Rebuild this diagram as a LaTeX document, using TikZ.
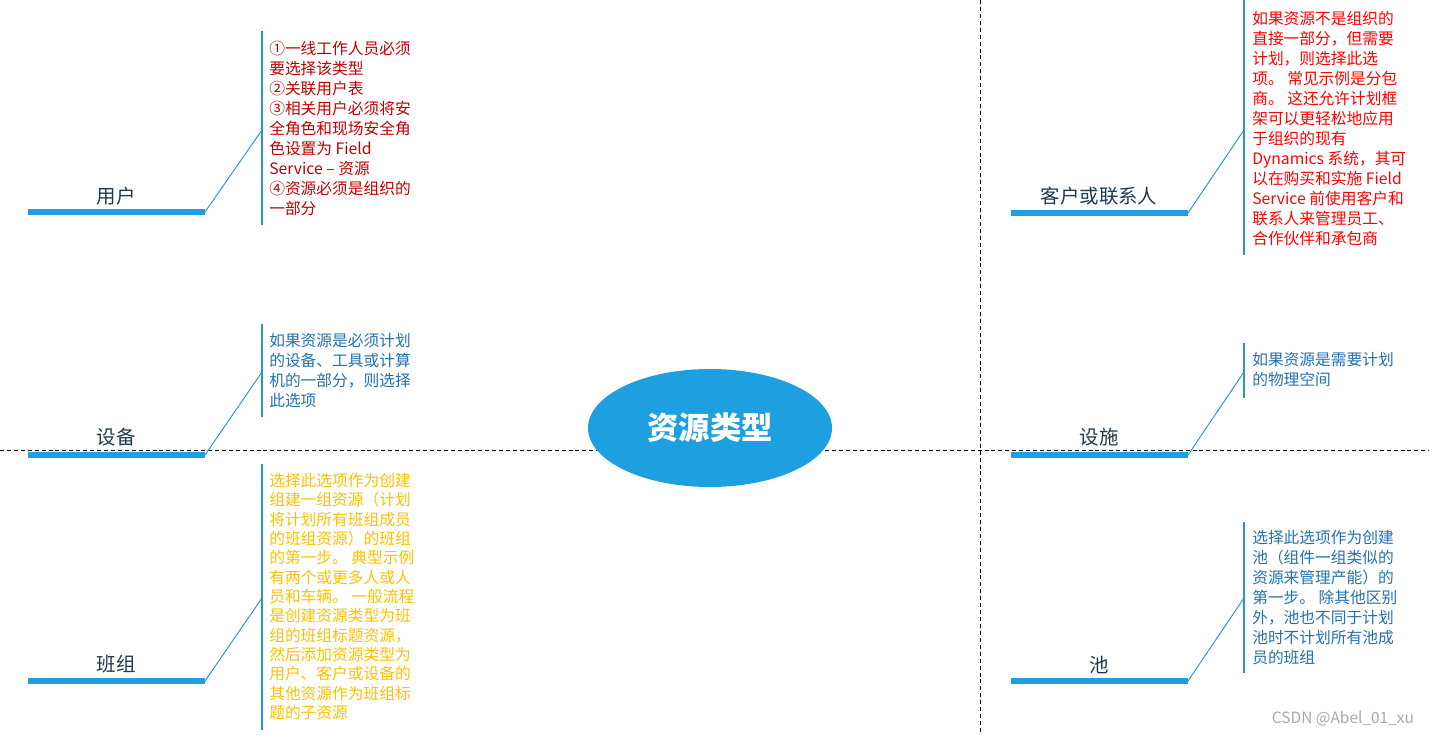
\documentclass[tikz,border=0pt]{standalone}
\usepackage{fontspec}
\setmainfont{Noto Sans CJK SC}
\usetikzlibrary{shapes.geometric}
\definecolor{MapBlue}{HTML}{1E9FDF}
\definecolor{LineBlue}{HTML}{2A93D2}
\definecolor{LabelNavy}{HTML}{1D3A4E}
\definecolor{NoteRed}{HTML}{C00000}
\definecolor{NoteBrightRed}{HTML}{FF0000}
\definecolor{NoteBlue}{HTML}{2272AE}
\definecolor{NoteGold}{HTML}{FFC000}
\definecolor{MarkGray}{HTML}{A8A8A8}

\begin{document}
\begin{tikzpicture}[x=0.75pt, y=-0.75pt,
  hub/.style={ellipse, fill=MapBlue, minimum width=183pt, minimum height=88.5pt, inner sep=0pt, text=white, font=\fontsize{23.5pt}{28pt}\selectfont\bfseries},
  topic/.style={text=LabelNavy, inner sep=0pt, font=\fontsize{14.6pt}{18pt}\selectfont},
  note/.style={anchor=north west, align=left, inner sep=0pt, font=\fontsize{11.8pt}{15pt}\selectfont},
  bar/.style={line width=3.9pt, MapBlue},
  link/.style={line width=0.7pt, LineBlue},
  rule/.style={line width=0.9pt, LineBlue},
  guide/.style={dash pattern=on 3pt off 2.2pt, line width=0.6pt, black}
]
\useasboundingbox (0,0) rectangle (1429,735);

% quadrant guides
\coordinate (gw) at (0,450);
\coordinate (ge) at (1429,450);
\coordinate (gn) at (980,0);
\coordinate (gs) at (980,735);
\draw[guide] (gw) -- (ge);
\draw[guide] (gn) -- (gs);

\node[hub] (center) at (710,428) {资源类型};

% left column
\node[topic] (yonghu) at (116,196) {用户};
\coordinate (yonghu-a) at (28,212);
\coordinate (yonghu-b) at (205,212);
\coordinate (yonghu-c) at (262,130);
\coordinate (yonghu-t) at (262,31);
\coordinate (yonghu-s) at (262,225);
\draw[bar] (yonghu-a) -- (yonghu-b);
\draw[link] (yonghu-b) -- (yonghu-c);
\draw[rule] (yonghu-t) -- (yonghu-s);
\node[note, text=NoteRed] (yonghu-note) at (269,41) {①一线工作人员必须\\要选择该类型\\②关联用户表\\③相关用户必须将安\\全角色和现场安全角\\色设置为 Field\\Service – 资源\\④资源必须是组织的\\一部分};

\node[topic] (shebei) at (116,437) {设备};
\coordinate (shebei-a) at (28,455);
\coordinate (shebei-b) at (205,455);
\coordinate (shebei-c) at (262,372);
\coordinate (shebei-t) at (262,324);
\coordinate (shebei-s) at (262,417);
\draw[bar] (shebei-a) -- (shebei-b);
\draw[link] (shebei-b) -- (shebei-c);
\draw[rule] (shebei-t) -- (shebei-s);
\node[note, text=NoteBlue] (shebei-note) at (269,333) {如果资源是必须计划\\的设备、工具或计算\\机的一部分，则选择\\此选项};

\node[topic] (banzu) at (116,664) {班组};
\coordinate (banzu-a) at (28,681);
\coordinate (banzu-b) at (205,681);
\coordinate (banzu-c) at (262,598);
\coordinate (banzu-t) at (262,464);
\coordinate (banzu-s) at (262,730);
\draw[bar] (banzu-a) -- (banzu-b);
\draw[link] (banzu-b) -- (banzu-c);
\draw[rule] (banzu-t) -- (banzu-s);
\node[note, text=NoteGold, font=\fontsize{11.8pt}{14.5pt}\selectfont] (banzu-note) at (269,473) {选择此选项作为创建\\组建一组资源（计划\\将计划所有班组成员\\的班组资源）的班组\\的第一步。 典型示例\\有两个或更多人或人\\员和车辆。 一般流程\\是创建资源类型为班\\组的班组标题资源，\\然后添加资源类型为\\用户、客户或设备的\\其他资源作为班组标\\题的子资源};

% right column
\node[topic] (kehu) at (1099,196) {客户或联系人};
\coordinate (kehu-a) at (1011,213);
\coordinate (kehu-b) at (1188,213);
\coordinate (kehu-c) at (1244,130);
\coordinate (kehu-t) at (1244,0);
\coordinate (kehu-s) at (1244,255);
\draw[bar] (kehu-a) -- (kehu-b);
\draw[link] (kehu-b) -- (kehu-c);
\draw[rule] (kehu-t) -- (kehu-s);
\node[note, text=NoteBrightRed] (kehu-note) at (1252,11) {如果资源不是组织的\\直接一部分，但需要\\计划，则选择此选\\项。 常见示例是分包\\商。 这还允许计划框\\架可以更轻松地应用\\于组织的现有\\Dynamics 系统，其可\\以在购买和实施 Field\\Service 前使用客户和\\联系人来管理员工、\\合作伙伴和承包商};

\node[topic] (sheshi) at (1099,437) {设施};
\coordinate (sheshi-a) at (1011,455);
\coordinate (sheshi-b) at (1188,455);
\coordinate (sheshi-c) at (1244,372);
\coordinate (sheshi-t) at (1244,343);
\coordinate (sheshi-s) at (1244,398);
\draw[bar] (sheshi-a) -- (sheshi-b);
\draw[link] (sheshi-b) -- (sheshi-c);
\draw[rule] (sheshi-t) -- (sheshi-s);
\node[note, text=NoteBlue] (sheshi-note) at (1252,352) {如果资源是需要计划\\的物理空间};

\node[topic] (chi) at (1099,665) {池};
\coordinate (chi-a) at (1011,681);
\coordinate (chi-b) at (1188,681);
\coordinate (chi-c) at (1244,598);
\coordinate (chi-t) at (1244,522);
\coordinate (chi-s) at (1244,673);
\draw[bar] (chi-a) -- (chi-b);
\draw[link] (chi-b) -- (chi-c);
\draw[rule] (chi-t) -- (chi-s);
\node[note, text=NoteBlue] (chi-note) at (1252,530) {选择此选项作为创建\\池（组件一组类似的\\资源来管理产能）的\\第一步。 除其他区别\\外，池也不同于计划\\池时不计划所有池成\\员的班组};

\node[text=MarkGray, inner sep=0pt, font=\fontsize{11.6pt}{13pt}\selectfont] (mark) at (1343,719) {CSDN @Abel\_01\_xu};
\end{tikzpicture}
\end{document}
